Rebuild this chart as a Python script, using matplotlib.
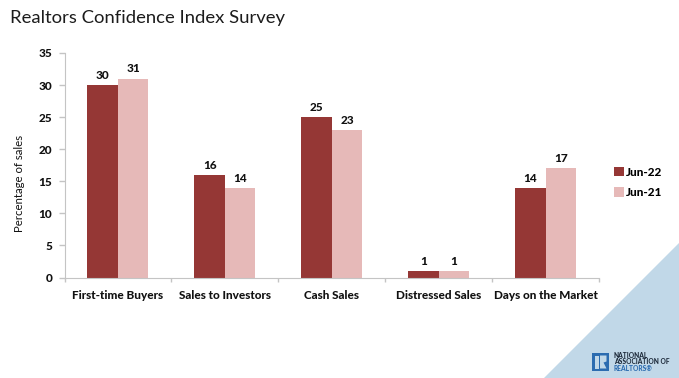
import numpy as np
import matplotlib
matplotlib.use('Agg')
import matplotlib.pyplot as plt
from matplotlib.patches import Polygon, Rectangle

categories = ['First-time Buyers', 'Sales to Investors', 'Cash Sales', 'Distressed Sales', 'Days on the Market']
jun22 = [30, 16, 25, 1, 14]
jun21 = [31, 14, 23, 1, 17]
yticks = [0, 5, 10, 15, 20, 25, 30, 35]

W, H = 679, 378
plt.rcParams['font.family'] = ['Lato', 'DejaVu Sans']

fig = plt.figure(figsize=(W / 100, H / 100), dpi=100)

# pixel coordinate layer for the background pieces
bg = fig.add_axes([0, 0, 1, 1])
bg.set_xlim(0, W)
bg.set_ylim(H, 0)
bg.axis('off')
bg.add_patch(Polygon([(679, 243), (679, 378), (544, 378)], color='#c1d8e8', lw=0))

# logo
bg.add_patch(Rectangle((592, 353), 17, 18, color='#2c6cb0', lw=0))
bg.add_patch(Rectangle((594.5, 355.5), 4, 13, color='#c1d8e8', lw=0))
bg.add_patch(Polygon([(600, 355.5), (606.5, 355.5), (606.5, 361.5), (603.5, 362.5), (606.5, 368.5),
                      (600, 368.5)], color='#c1d8e8', lw=0))
bg.text(614, 355.5, 'NATIONAL', fontsize=4.8, fontweight='black', color='#1d2a3a', va='center')
bg.text(614, 362, 'ASSOCIATION OF', fontsize=4.8, fontweight='black', color='#1d2a3a', va='center')
bg.text(614, 368.5, 'REALTORS®', fontsize=4.8, fontweight='black', color='#2c6cb0', va='center')

bg.text(10, 17.5, 'Realtors Confidence Index Survey', fontsize=13.3, color='#1c1c1c', va='center', ha='left')

ax = fig.add_axes([64.5 / W, 1 - 277.5 / H, (599 - 64.5) / W, (277.5 - 53) / H])
ax.patch.set_alpha(0)
x = np.arange(len(categories))
width = 0.285
b1 = ax.bar(x - width / 2, jun22, width, color='#953735', label='Jun-22')
b2 = ax.bar(x + width / 2, jun21, width, color='#e6b9b8', label='Jun-21')
ax.bar_label(b1, padding=3, fontsize=8.5, fontweight='black', color='#111111')
ax.bar_label(b2, padding=3, fontsize=8.5, fontweight='black', color='#111111')

ax.set_xlim(-0.5, len(categories) - 0.5)
ax.set_ylim(0, 35)
ax.set_yticks(yticks)
ax.set_xticks(np.arange(len(categories) + 1) - 0.5, minor=True)
ax.set_xticks(x)
ax.set_xticklabels(categories, fontsize=8.5, fontweight='black', color='#111111')
ax.tick_params(axis='x', which='major', length=0, pad=9)
ax.tick_params(axis='x', which='minor', length=3, direction='out', color='#c4c4c4', width=1)
ax.tick_params(axis='y', length=4, color='#c4c4c4', width=1, labelsize=8.5, labelcolor='#111111', pad=5)
for t in ax.get_yticklabels():
    t.set_fontweight('black')
for s in ['top', 'right']:
    ax.spines[s].set_visible(False)
for s in ['left', 'bottom']:
    ax.spines[s].set_color('#c4c4c4')

# y label is squeezed in the original
bg.text(20, 183.5, 'Percentage of sales', fontsize=8.2, color='#111111', rotation=90,
        va='center', ha='center')

# legend
fig.legend(*ax.get_legend_handles_labels(), loc='center left', bbox_to_anchor=(613.5 / W, 1 - 182.5 / H),
           frameon=False, prop={'weight': 'black', 'size': 8.5}, handlelength=0.85, handleheight=0.85,
           handletextpad=0.2, labelspacing=0.8, borderpad=0, borderaxespad=0)

fig.savefig('out.png', dpi=100)
